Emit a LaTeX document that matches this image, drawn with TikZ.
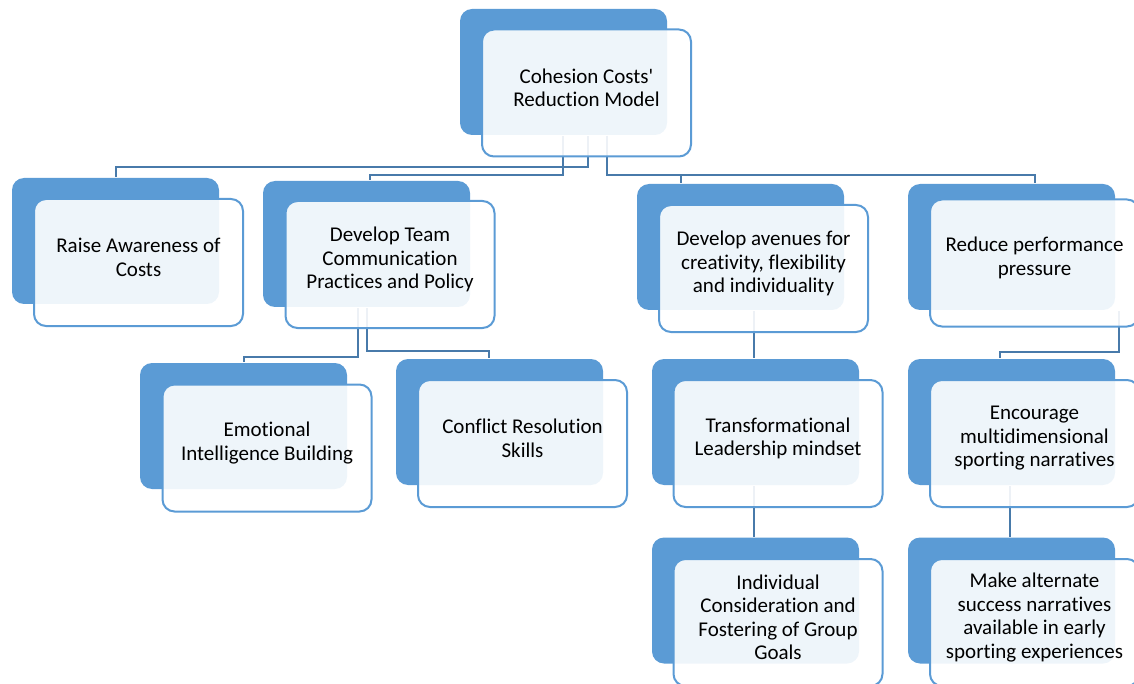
\documentclass[tikz,border=0pt]{standalone}
\usepackage{fontspec}
\setmainfont{Carlito}[Ligatures = {TeXOff, NoCommon}]
\usepackage{tikz}
\definecolor{backblue}{RGB}{91,155,213}
\definecolor{lineblue}{RGB}{72,122,170}

\begin{document}
\begin{tikzpicture}[x = 1pt, y = -1pt, line width = 2pt,
                        back/.style = {rectangle, rounded corners = 12pt, fill = backblue, minimum width = 207pt, minimum height = 126pt, inner sep = 0pt},
                        front/.style = {rectangle, rounded corners = 12pt, draw = backblue, fill = white, fill opacity = 0.9, minimum width = 209pt, minimum height = 127pt, inner sep = 0pt},
                        conn/.style = {draw = lineblue, line width = 2pt},
                        txt/.style = {align = center, inner sep = 0pt, font = \fontsize{21}{23.5}\selectfont}]
      \useasboundingbox (0, 0) rectangle (1134, 684);
      \clip (0, 0) rectangle (1134, 684);

      \node [back] (rootB) at (563.5, 72){};
      \node [back] (awareB) at (115.5, 241){};
      \node [back] (teamB) at (366.5, 244){};
      \node [back] (avenueB) at (740.5, 247){};
      \node [back] (pressureB) at (1011.5, 247){};
      \node [back] (emotionB) at (243.5, 426){};
      \node [back] (conflictB) at (499.5, 422){};
      \node [back] (transfB) at (755.5, 422){};
      \node [back] (encourB) at (1011.5, 422){};
      \node [back] (indivB) at (755.5, 600.5){};
      \node [back] (alternB) at (1011.5, 600.5){};

      \draw [conn] ([xshift = 24.5pt]rootB.south) -- ++(0, 31) -| (awareB.north);
      \draw [conn] ([xshift = -0.5pt]rootB.south) -- ++(0, 39) -| ([xshift = 3.5pt]teamB.north);
      \draw [conn] ([xshift = 43.5pt]rootB.south) -- ++(0, 39) -| ([xshift = -59.5pt]avenueB.north);
      \draw [conn] ([xshift = 43.5pt]rootB.south) -- ++(0, 39) -| ([xshift = 23.5pt]pressureB.north);
      \draw [conn] ([xshift = -8.5pt]teamB.south) -- ++(0, 49) -| (emotionB.north);
      \draw [conn] ([xshift = 0.5pt]teamB.south) -- ++(0, 43) -| ([xshift = -10.5pt]conflictB.north);
      \draw [conn] ([xshift = 13.5pt]avenueB.south) -- ([xshift = -1.5pt]transfB.north);
      \draw [conn] ([xshift = 107.5pt]pressureB.south) -- ++(0, 41) -| ([xshift = -11.5pt]encourB.north);
      \draw [conn] ([xshift = -1.5pt]transfB.south) -- ([xshift = -1.5pt]indivB.north);
      \draw [conn] ([xshift = -1.5pt]encourB.south) -- ([xshift = -1.5pt]alternB.north);

      \node [front] (rootF) at (586.5, 93){};
      \node [front] (awareF) at (138.5, 262.5){};
      \node [front] (teamF) at (390, 264.5){};
      \node [front] (avenueF) at (763.5, 268.5){};
      \node [front] (pressureF) at (1034.5, 263){};
      \node [front] (emotionF) at (267, 448){};
      \node [front] (conflictF) at (522.5, 443.5){};
      \node [front] (transfF) at (778, 443.5){};
      \node [front] (encourF) at (1034.5, 443.5){};
      \node [front] (indivF) at (778, 622.5){};
      \node [front] (alternF) at (1034.5, 622.5){};

      \node [txt] (rootT) at ([yshift = 5pt]rootF.center){Cohesion Costs'\\Reduction Model};
      \node [txt] (awareT) at ([yshift = 5pt]awareF.center){Raise Awareness of\\Costs};
      \node [txt] (teamT) at ([yshift = 5pt]teamF.center){Develop Team\\Communication\\Practices and Policy};
      \node [txt] (avenueT) at ([yshift = 5pt]avenueF.center){Develop avenues for\\creativity, flexibility\\and individuality};
      \node [txt] (pressureT) at ([yshift = 5pt]pressureF.center){Reduce performance\\pressure};
      \node [txt] (emotionT) at ([yshift = 5pt]emotionF.center){Emotional\\Intelligence Building};
      \node [txt] (conflictT) at ([yshift = 5pt]conflictF.center){Conflict Resolution\\Skills};
      \node [txt] (transfT) at ([yshift = 5pt]transfF.center){Transformational\\Leadership mindset};
      \node [txt] (encourT) at ([yshift = 5pt]encourF.center){Encourage\\multidimensional\\sporting narratives};
      \node [txt] (indivT) at ([yshift = 5pt]indivF.center){Individual\\Consideration and\\Fostering of Group\\Goals};
      \node [txt] (alternT) at ([yshift = 5pt]alternF.center){Make alternate\\success narratives\\available in early\\sporting experiences};
      \end{tikzpicture}
\end{document}
